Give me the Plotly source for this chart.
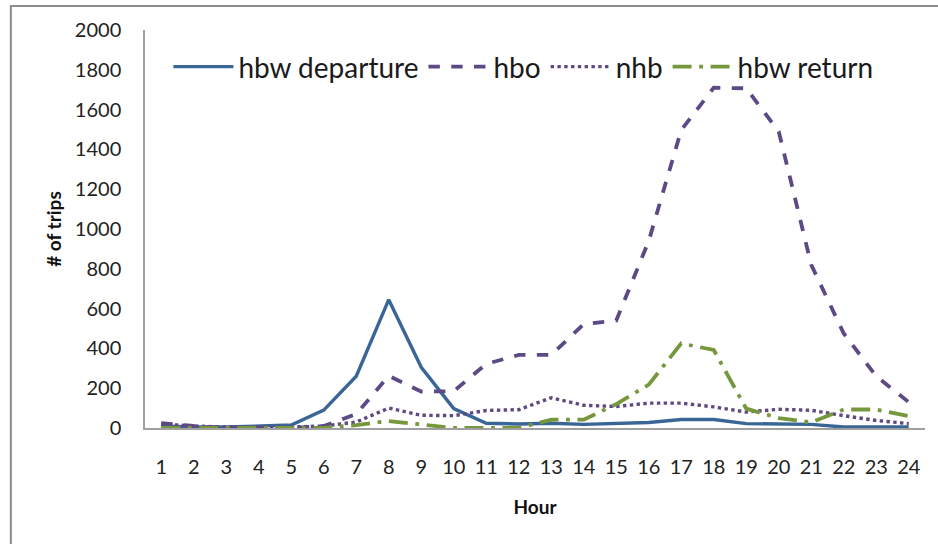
import plotly.graph_objects as go

hours = [str(h) for h in range(1, 25)]

hbw_departure = [10, 5, 5, 10, 15, 90, 260, 645, 305, 98, 24, 20, 24, 18, 22, 28, 43, 43, 22, 22, 18, 5, 5, 5]
hbo = [25, 10, 0, 0, 0, 10, 70, 262, 183, 185, 322, 367, 367, 522, 540, 940, 1497, 1710, 1707, 1490, 820, 475, 260, 130]
nhb = [20, 10, 5, 5, 5, 10, 30, 100, 64, 62, 88, 92, 152, 114, 108, 125, 125, 106, 80, 94, 89, 62, 38, 22]
hbw_return = [0, 0, 0, 0, 0, 0, 15, 35, 18, 0, 0, 0, 42, 42, 120, 218, 425, 392, 97, 50, 28, 93, 93, 60]

series = [
    ("hbw departure", hbw_departure, "#3A6597", "solid", 3.4),
    ("hbo", hbo, "#5D4A85", "dash", 3.8),
    ("nhb", nhb, "#5D4A85", "dot", 3.4),
    ("hbw return", hbw_return, "#77973D", "longdashdot", 3.8),
]

fig = go.Figure()
for name, vals, color, dash, width in series:
    fig.add_trace(go.Scatter(
        x=hours, y=vals, name=name, mode="lines",
        line=dict(color=color, dash=dash, width=width),
    ))

font_family = "Lato, 'Open Sans', sans-serif"

fig.update_layout(
    width=938, height=544,
    margin=dict(l=145, r=13, t=30, b=116),
    paper_bgcolor="white", plot_bgcolor="white",
    font=dict(family=font_family, color="#222222"),
    showlegend=True,
    legend=dict(
        orientation="h", x=0.03, y=0.97, xanchor="left", yanchor="top",
        font=dict(size=28, color="#1a1a1a"), bgcolor="rgba(0,0,0,0)",
        itemwidth=60, tracegroupgap=0,
    ),
    xaxis=dict(
        type="category", range=[-0.5, 23.5],
        showgrid=False, showline=True, linecolor="#A0A0A0", linewidth=1.5,
        ticks="", tickfont=dict(size=20, color="#222222"),
        ticklabelstandoff=20,
        title=dict(text="<b>Hour</b>", font=dict(size=19, color="#111111"), standoff=24),
    ),
    yaxis=dict(
        range=[0, 2000], dtick=200,
        showgrid=False, showline=True, linecolor="#A0A0A0", linewidth=1.5,
        ticks="", tickfont=dict(size=20, color="#222222"),
        ticklabelstandoff=18, zeroline=False,
        title=dict(text="<b># of trips</b>", font=dict(size=19, color="#111111"), standoff=8),
    ),
    shapes=[dict(
        type="rect", xref="paper", yref="paper",
        x0=-0.172, x1=1.2, y0=-0.5, y1=1.06,
        line=dict(color="#8C8C8C", width=2), fillcolor="rgba(0,0,0,0)", layer="below",
    )],
)

fig.write_html("out.html")
